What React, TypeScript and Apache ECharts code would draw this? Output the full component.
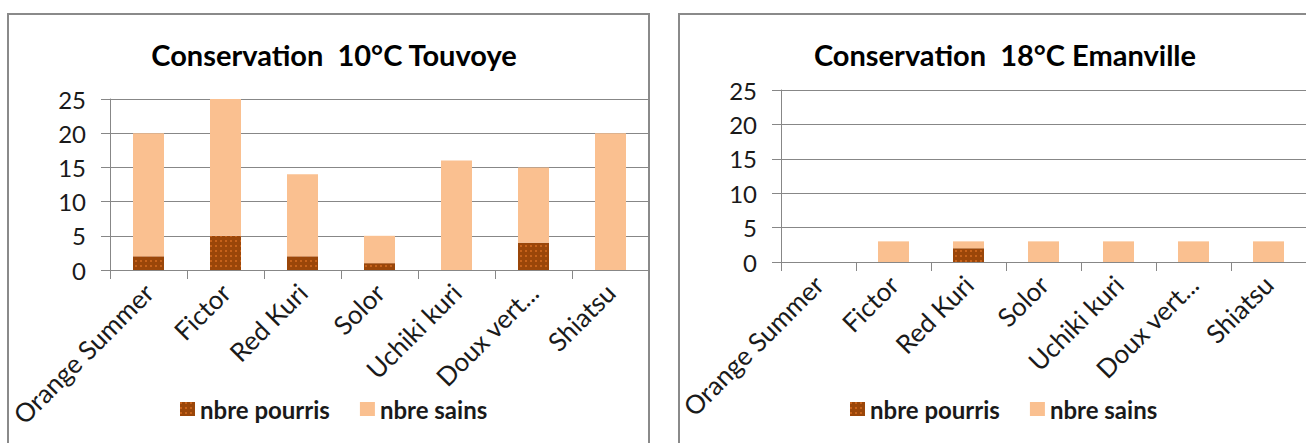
import React, { useEffect, useRef } from "react";
import * as echarts from "echarts";

const categories = ["Orange Summer", "Fictor", "Red Kuri", "Solor", "Uchiki kuri", "Doux vert...", "Shiatsu"];
const seriesNames = ["nbre pourris", "nbre sains"];

const title10 = "Conservation  10°C Touvoye";
const pourris10 = [2, 5, 2, 1, 0, 4, 0];
const sains10 = [18, 20, 12, 4, 16, 11, 20];

const title18 = "Conservation  18°C Emanville";
const pourris18 = [0, 0, 2, 0, 0, 0, 0];
const sains18 = [0, 3, 1, 3, 3, 3, 3];

const yMin = 0;
const yMax = 25;
const yInterval = 5;

const FONT = "Lato, 'Noto Sans', sans-serif";
const DARK = "#9A4609";
const LIGHT = "#FAC090";
const GRIDC = "#878787";

const darkStyle = {
  color: DARK,
  decal: {
    symbol: "rect",
    symbolSize: 1,
    color: "rgba(236,120,40,0.55)",
    dashArrayX: [[2, 3]],
    dashArrayY: [2, 3],
    rotation: 0,
  },
};

function xAxis(gridIndex: number) {
  return {
    type: "category",
    gridIndex,
    data: categories,
    axisLine: { show: true, lineStyle: { color: GRIDC, width: 1 } },
    axisTick: { show: true, alignWithLabel: false, length: 9, lineStyle: { color: GRIDC } },
    axisLabel: {
      interval: 0,
      rotate: 45,
      margin: 18,
      fontFamily: FONT,
      fontSize: 26,
      color: "#1a1a1a",
    },
  };
}

function yAxis(gridIndex: number) {
  return {
    type: "value",
    gridIndex,
    min: yMin,
    max: yMax,
    interval: yInterval,
    axisLine: { show: true, lineStyle: { color: GRIDC, width: 1 } },
    axisTick: { show: true, length: 9, lineStyle: { color: GRIDC } },
    splitLine: { show: true, lineStyle: { color: GRIDC, width: 1 } },
    axisLabel: { margin: 24, fontFamily: FONT, fontSize: 24, color: "#1a1a1a" },
  };
}

function legend(left: number) {
  return {
    left,
    top: 392,
    orient: "horizontal",
    data: seriesNames,
    icon: "rect",
    itemWidth: 15,
    itemHeight: 14,
    itemGap: 30,
    textStyle: { fontFamily: FONT, fontSize: 24, fontWeight: "bold", color: "#1a1a1a" },
  };
}

export default function App() {
  const ref = useRef<HTMLDivElement>(null);
  useEffect(() => {
    if (!ref.current) return;
    const chart = echarts.init(ref.current, null, { renderer: "svg" });
    chart.setOption({
      animation: false,
      backgroundColor: "#ffffff",
      title: [
        {
          text: title10,
          left: 329,
          top: 35,
          textAlign: "center",
          textStyle: { fontFamily: FONT, fontSize: 29, fontWeight: "bold", color: "#000" },
        },
        {
          text: title18,
          left: 1000,
          top: 35,
          textAlign: "center",
          textStyle: { fontFamily: FONT, fontSize: 29, fontWeight: "bold", color: "#000" },
        },
      ],
      legend: [legend(175), legend(845)],
      grid: [
        { left: 110, top: 99, width: 539, height: 171 },
        { left: 781, top: 90, width: 541, height: 172 },
      ],
      xAxis: [xAxis(0), xAxis(1)],
      yAxis: [yAxis(0), yAxis(1)],
      series: [
        {
          name: seriesNames[0],
          type: "bar",
          stack: "L",
          xAxisIndex: 0,
          yAxisIndex: 0,
          barWidth: 31,
          itemStyle: darkStyle,
          data: pourris10,
        },
        {
          name: seriesNames[1],
          type: "bar",
          stack: "L",
          xAxisIndex: 0,
          yAxisIndex: 0,
          barWidth: 31,
          itemStyle: { color: LIGHT },
          data: sains10,
        },
        {
          name: seriesNames[0],
          type: "bar",
          stack: "R",
          xAxisIndex: 1,
          yAxisIndex: 1,
          barWidth: 31,
          itemStyle: darkStyle,
          data: pourris18,
        },
        {
          name: seriesNames[1],
          type: "bar",
          stack: "R",
          xAxisIndex: 1,
          yAxisIndex: 1,
          barWidth: 31,
          itemStyle: { color: LIGHT },
          data: sains18,
        },
      ],
      graphic: [
        {
          type: "rect",
          shape: { x: 8, y: 14, width: 641, height: 460 },
          style: { fill: "none", stroke: "#8a8a8a", lineWidth: 2 },
          silent: true,
        },
        {
          type: "rect",
          shape: { x: 679, y: 14, width: 642, height: 460 },
          style: { fill: "none", stroke: "#8a8a8a", lineWidth: 2 },
          silent: true,
        },
      ],
    });
    return () => chart.dispose();
  }, []);
  return (
    <div
      ref={ref}
      style={{ position: "fixed", left: 0, top: 0, width: 1306, height: 443, background: "#fff" }}
    />
  );
}
